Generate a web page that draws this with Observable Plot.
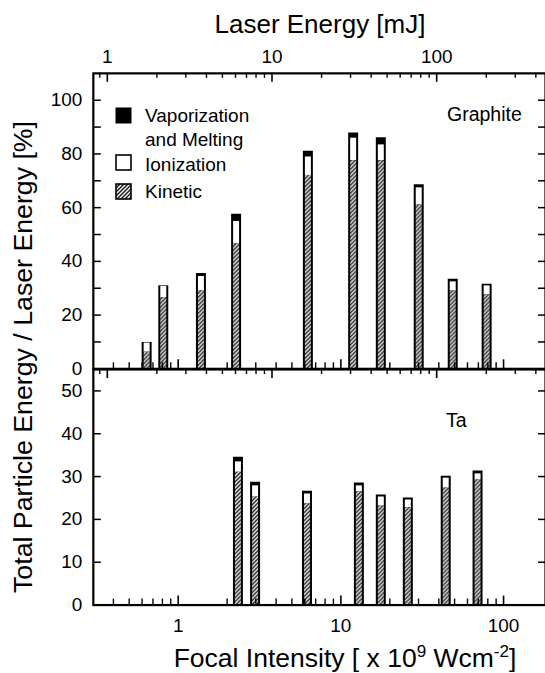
<!DOCTYPE html>
<html><head><meta charset="utf-8">
<script src="https://cdn.jsdelivr.net/npm/d3@7"></script>
<script src="https://cdn.jsdelivr.net/npm/@observablehq/plot@0.6"></script>
<style>
html,body{margin:0;padding:0;background:#fff;overflow:hidden;}
#wrap{position:relative;width:545px;height:673px;overflow:hidden;font-family:"Liberation Sans",Arial,Helvetica,sans-serif;color:#000;background:#fff;}
#top,#bot{position:absolute;left:0;}
#top{top:0;} #bot{top:369px;}
#over{position:absolute;left:0;top:0;pointer-events:none;}
</style></head>
<body>
<svg width="0" height="0" style="position:absolute">
  <defs>
    <pattern id="hatch" patternUnits="userSpaceOnUse" width="4" height="4">
      <rect width="4" height="4" fill="#fff"/>
      <path d="M-1,1 l2,-2 M0,4 l4,-4 M3,5 l2,-2" stroke="#1a1a1a" stroke-width="1.5"/>
    </pattern>
  </defs>
</svg>
<div id="wrap">
  <div id="top"></div>
  <div id="bot"></div>
  <svg id="over" width="545" height="673" font-family="Liberation Sans, Arial, Helvetica, sans-serif" fill="#000">
    <text x="320" y="33" font-size="26" text-anchor="middle">Laser Energy [mJ]</text>
    <text transform="translate(32,357) rotate(-90)" font-size="26" text-anchor="middle" textLength="472" lengthAdjust="spacingAndGlyphs">Total Particle Energy / Laser Energy [%]</text>
    <text x="345" y="667" font-size="26.5" text-anchor="middle">Focal Intensity [ x 10<tspan dy="-10" font-size="17">9</tspan><tspan dy="10"> Wcm</tspan><tspan dy="-10" font-size="17">-2</tspan><tspan dy="10">]</tspan></text>
    <rect x="115.5" y="107.5" width="16" height="16" fill="#000"/>
    <rect x="116" y="155" width="15" height="15" fill="#fff" stroke="#000" stroke-width="1.6"/>
    <rect x="116" y="184" width="15" height="15" fill="url(#hatch)" stroke="#000" stroke-width="1.6"/>
    <text x="145" y="122" font-size="19">Vaporization</text>
    <text x="145" y="146" font-size="19">and Melting</text>
    <text x="145" y="171" font-size="19">Ionization</text>
    <text x="145" y="198" font-size="19">Kinetic</text>
    <text x="447" y="121" font-size="19.5">Graphite</text>
    <text x="446" y="427" font-size="19.5">Ta</text>
  </svg>
</div>
<script>
// Graphite (upper panel)
const gIntensity    = [0.64, 0.81, 1.38, 2.27, 6.27, 11.9, 17.6, 30.1, 48.7, 78.7];
const gKinetic      = [6.2, 26.5, 29, 46.5, 72, 77.5, 77.5, 61, 29, 27.5];
const gIonization   = [3, 3.8, 5, 8, 6.5, 8, 5.5, 6, 3, 3];
const gVaporization = [0.6, 0.6, 1.5, 3, 2.5, 2.3, 3, 1.5, 1.3, 1];
// Ta (lower panel)
const tIntensity    = [2.33, 2.97, 6.19, 12.9, 17.6, 25.8, 44.1, 69.2];
const tKinetic      = [31, 25.2, 23.6, 26.4, 23.1, 22.7, 27.3, 29.2];
const tIonization   = [2.2, 2.4, 2.1, 1.2, 1.9, 1.6, 2.1, 1.2];
const tVaporization = [1.3, 1.1, 0.9, 0.9, 0.7, 0.7, 0.7, 0.9];
// Tick values
const energyMajor = [1, 10, 100];
const energyMinor = [0.9, 2, 3, 4, 5, 6, 7, 8, 9, 20, 30, 40, 50, 60, 70, 80, 90, 200, 300, 400];
const intensityMajor = [1, 10, 100];
const intensityMinor = [0.4, 0.5, 0.6, 0.7, 0.8, 0.9, 2, 3, 4, 5, 6, 7, 8, 9, 20, 30, 40, 50, 60, 70, 80, 90];
const yTopLabels = [0, 20, 40, 60, 80, 100];
const yTopTicks  = [10, 20, 30, 40, 50, 60, 70, 80, 90, 100];
const yBotLabels = [0, 10, 20, 30, 40, 50];
const yBotTicks  = [10, 20, 30, 40, 50];

// calibration of the top (laser energy) axis against focal intensity
const eToI = E => Math.pow(10, (165 * Math.log10(E) - 71) / 163);

const build = (I, K, Io, V) => I.map((x, i) => ({I: x, kin: K[i], ion: Io[i], vap: V[i]}));
const graphite = build(gIntensity, gKinetic, gIonization, gVaporization);
const ta = build(tIntensity, tKinetic, tIonization, tVaporization);

const FONT = "Liberation Sans, Arial, Helvetica, sans-serif";
const WIDTH = 546, ML = 93, MR = 0;

function panel({data, height, marginTop, marginBottom, yDomain, yLabels, yTicks, topLabels, bottomLabels}) {
  const H = height - marginTop - marginBottom;
  const W = WIDTH - ML - MR;
  const marks = [
    Plot.ruleX(data, {x: "I", y1: 0, y2: d => d.kin + d.ion + d.vap, stroke: "black", strokeWidth: 10}),
    Plot.ruleX(data, {x: "I", y1: d => d.kin, y2: d => d.kin + d.ion, stroke: "white", strokeWidth: 6, insetBottom: 1}),
    Plot.ruleX(data, {x: "I", y1: 0, y2: "kin", stroke: "url(#hatch)", strokeWidth: 6, insetTop: 1}),
    Plot.frame({strokeWidth: 2.2}),
    // inward ticks
    Plot.tickX(energyMinor, {x: eToI, insetBottom: H - 5, strokeWidth: 1.4}),
    Plot.tickX(energyMajor, {x: eToI, insetBottom: H - 9, strokeWidth: 1.6}),
    Plot.tickX(intensityMinor, {x: d => d, insetTop: H - 6, strokeWidth: 1.4}),
    Plot.tickX(intensityMajor, {x: d => d, insetTop: H - 9, strokeWidth: 1.6}),
    Plot.tickY(yTicks, {y: d => d, insetRight: W - 8, strokeWidth: 1.5}),
    Plot.tickY(yTicks, {y: d => d, insetLeft: W - 7, strokeWidth: 1.5}),
    Plot.axisY(yLabels, {anchor: "left", tickSize: 0, tickPadding: 11, fontSize: 19, label: null})
  ];
  if (topLabels) marks.push(Plot.text(energyMajor, {x: eToI, text: d => String(d), frameAnchor: "top", lineAnchor: "bottom", dy: -10, fontSize: 19}));
  if (bottomLabels) marks.push(Plot.text(intensityMajor, {x: d => d, text: d => String(d), frameAnchor: "bottom", lineAnchor: "top", dy: 13, fontSize: 19}));
  return Plot.plot({
    width: WIDTH, height, marginLeft: ML, marginRight: MR, marginTop, marginBottom,
    x: {type: "log", domain: [0.301, 181], axis: null, label: null},
    y: {domain: yDomain, axis: null, label: null},
    style: {fontFamily: FONT, fontSize: "19px", color: "black", background: "transparent", overflow: "visible"},
    marks
  });
}

document.getElementById("top").append(panel({data: graphite, height: 369, marginTop: 73, marginBottom: 0, yDomain: [0, 110], yLabels: yTopLabels, yTicks: yTopTicks, topLabels: true}));
document.getElementById("bot").append(panel({data: ta, height: 304, marginTop: 0, marginBottom: 68, yDomain: [0, 55], yLabels: yBotLabels, yTicks: yBotTicks, bottomLabels: true}));
</script>
</body></html>
